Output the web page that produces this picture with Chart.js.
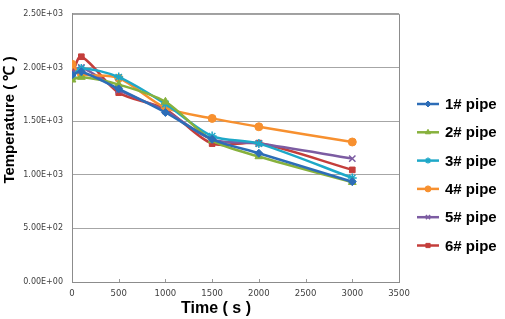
<!DOCTYPE html>
<html>
<head>
<meta charset="utf-8">
<script src="https://cdn.jsdelivr.net/npm/chart.js@4.4.1/dist/chart.umd.min.js"></script>
<style>
  html, body { margin: 0; padding: 0; background: #fff; }
  #wrap { width: 505px; height: 319px; position: relative; }
</style>
</head>
<body>
<div id="wrap"><canvas id="grafico"></canvas></div>
<script>
// datos
const tiempos = [0, 100, 500, 1000, 1500, 2000, 3000];
const pipe1 = [1930, 1960, 1800, 1580, 1330, 1200, 935];
const pipe2 = [1885, 1910, 1840, 1680, 1320, 1170, 930];
const pipe3 = [1910, 1990, 1910, 1660, 1360, 1290, 970];
const pipe4 = [2030, 1940, 1900, 1625, 1525, 1447, 1305];
const pipe5 = [1950, 2000, 1790, 1595, 1330, 1290, 1150];
const pipe6 = [1935, 2100, 1765, 1610, 1290, 1295, 1045];
const nombres = ['1# pipe', '2# pipe', '3# pipe', '4# pipe', '5# pipe', '6# pipe'];
const yTickLabels = ['0.00E+00', '5.00E+02', '1.00E+03', '1.50E+03', '2.00E+03', '2.50E+03'];
const xTickLabels = ['0', '500', '1000', '1500', '2000', '2500', '3000', '3500'];

const colores = ['#2d6db7', '#87b13d', '#1ea8c8', '#f7902f', '#7c5ca2', '#c43e3b'];
const marcas = ['rectRot', 'triangle', 'star', 'circle', 'crossRot', 'rect'];
const radios = [4, 4.5, 4.5, 4, 4.5, 4];
const series = [pipe1, pipe2, pipe3, pipe4, pipe5, pipe6];

const datasets = series.map((vals, i) => ({
  label: nombres[i],
  data: vals.map((v, j) => ({ x: tiempos[j], y: v })),
  borderColor: colores[i],
  backgroundColor: colores[i],
  pointStyle: marcas[i],
  pointRadius: radios[i],
  pointBorderWidth: marcas[i] === 'star' || marcas[i] === 'crossRot' ? 1.5 : 1,
  borderWidth: 2.5,
  tension: 0.3,
  fill: false
}));

// titulos, borde y leyenda
const extras = {
  id: 'extras',
  afterDraw(chart) {
    const ctx = chart.ctx;
    const a = chart.chartArea;
    ctx.save();
    ctx.strokeStyle = '#8c8c8c';
    ctx.lineWidth = 1;
    ctx.beginPath();
    ctx.moveTo(a.left, a.top + 0.5);
    ctx.lineTo(a.right + 0.5, a.top + 0.5);
    ctx.lineTo(a.right + 0.5, a.bottom);
    ctx.stroke();

    // marcas pequeñas del eje x
    const sx = chart.scales.x;
    ctx.strokeStyle = '#9a9a9a';
    ctx.beginPath();
    for (let t = 500; t <= 3000; t += 500) {
      const px = Math.round(sx.getPixelForValue(t)) + 0.5;
      ctx.moveTo(px, a.bottom);
      ctx.lineTo(px, a.bottom - 3);
    }
    ctx.stroke();

    ctx.fillStyle = '#000';
    ctx.font = 'bold 16px "Liberation Sans", Arial, sans-serif';
    ctx.textAlign = 'center';
    ctx.textBaseline = 'middle';
    ctx.fillText('Time ( s )', 216, 309);

    ctx.save();
    ctx.translate(10, 120);
    ctx.rotate(-Math.PI / 2);
    ctx.font = 'bold 15px "Liberation Sans", Arial, sans-serif';
    ctx.fillText('Temperature ( \u2103 )', 0, 0);
    ctx.restore();

    // leyenda
    ctx.font = 'bold 15px "Liberation Sans", Arial, sans-serif';
    ctx.textAlign = 'left';
    chart.data.datasets.forEach((ds, i) => {
      const y = 104 + i * 28.3;
      ctx.strokeStyle = ds.borderColor;
      ctx.fillStyle = ds.backgroundColor;
      ctx.lineWidth = 2.5;
      ctx.beginPath();
      ctx.moveTo(417, y);
      ctx.lineTo(439, y);
      ctx.stroke();
      ctx.lineWidth = ds.pointBorderWidth;
      if (Chart.helpers && Chart.helpers.drawPoint) {
        Chart.helpers.drawPoint(ctx, { pointStyle: ds.pointStyle, radius: 3, rotation: 0, borderWidth: ds.pointBorderWidth }, 428, y);
      }
      ctx.fillStyle = '#000';
      ctx.fillText(ds.label, 445, y + 1);
    });
    ctx.restore();
  }
};

const ctx = document.getElementById('grafico').getContext('2d');
new Chart(ctx, {
  type: 'line',
  data: { datasets: datasets },
  options: {
    responsive: true,
    maintainAspectRatio: false,
    animation: false,
    layout: { padding: { left: 0, top: 5, right: 106, bottom: 0 } },
    plugins: {
      legend: { display: false },
      tooltip: { enabled: false }
    },
    scales: {
      x: {
        type: 'linear',
        min: 0,
        max: 3500,
        afterFit(scale) { scale.height = 37; },
        afterBuildTicks(scale) {
          scale.ticks = xTickLabels.map(t => ({ value: Number(t) }));
        },
        ticks: {
          padding: 7,
          color: '#404040',
          font: { family: 'DejaVu Sans', size: 8.5 },
          maxRotation: 0,
          callback: (v, i) => xTickLabels[i]
        },
        grid: { display: false, drawTicks: false },
        border: { display: true, color: '#8c8c8c', width: 1 }
      },
      y: {
        min: 0,
        max: 2500,
        afterFit(scale) { scale.width = 72; },
        afterBuildTicks(scale) {
          scale.ticks = yTickLabels.map(t => ({ value: Number(t) }));
        },
        ticks: {
          padding: 9,
          color: '#404040',
          font: { family: 'DejaVu Sans', size: 8 },
          callback: (v, i) => yTickLabels[i]
        },
        grid: { color: '#a6a6a6', lineWidth: 1, drawTicks: false },
        border: { display: true, color: '#8c8c8c', width: 1 }
      }
    }
  },
  plugins: [extras]
});
</script>
</body>
</html>
